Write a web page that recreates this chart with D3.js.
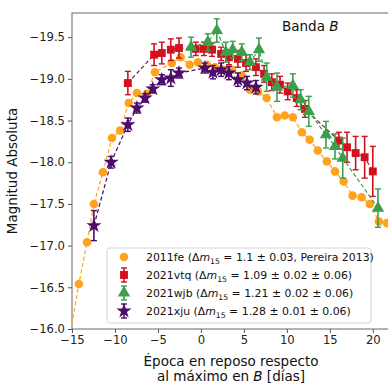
<!DOCTYPE html>
<html><head><meta charset="utf-8">
<script src="https://cdn.jsdelivr.net/npm/d3@7"></script>
<style>
body{margin:0;background:#fff;}
text{font-family:"DejaVu Sans",sans-serif;}
</style></head>
<body><svg id="c" width="388" height="383"></svg>
<script>
// ---- data ----
const feDays = [-15.3,-14.2,-13.25,-12.45,-11.4,-10.35,-9.4,-8.4,-7.45,-6.3,-5.35,-3.4,-2.35,-1.3,-0.35,0.7,1.65,2.55,3.6,4.75,5.7,6.65,7.65,8.85,9.75,10.7,11.75,12.65,13.6,14.65,15.6,16.6,17.65,18.7,19.65,20.7,21.65];
const feMags = [-15.9,-16.54,-17.04,-17.50,-17.88,-18.29,-18.38,-18.71,-18.83,-18.82,-19.08,-19.19,-19.26,-19.17,-19.20,-19.17,-19.14,-19.11,-19.11,-19.04,-18.87,-18.85,-18.77,-18.54,-18.56,-18.54,-18.36,-18.27,-18.14,-18.01,-17.89,-17.77,-17.60,-17.58,-17.50,-17.29,-17.27];

const vtqDays = [-8.5,-5.45,-4.55,-3.5,-2.55,-0.6,0.35,1.3,2.35,3.25,4.3,5.25,6.4,7.35,8.25,9.2,10.1,11.15,12.1,16.05,17.0,18.0,19.05,20.0];
const vtqMags = [-18.95,-19.29,-19.31,-19.35,-19.37,-19.36,-19.36,-19.35,-19.30,-19.26,-19.24,-19.19,-19.14,-19.06,-18.96,-18.93,-18.85,-18.77,-18.64,-18.26,-18.18,-18.11,-18.06,-17.89];
const vtqErrs = [0.14,0.13,0.13,0.13,0.12,0.08,0.08,0.08,0.08,0.09,0.1,0.1,0.1,0.1,0.1,0.1,0.1,0.1,0.1,0.1,0.18,0.2,0.25,0.3];

const wjbDays = [-1.15,0.8,1.85,2.9,3.7,4.75,5.7,6.75,7.65,8.85,10.7,11.6,12.55,14.55,15.6,16.5,20.6];
const wjbMags = [-19.38,-19.44,-19.58,-19.32,-19.35,-19.32,-19.20,-19.35,-19.02,-18.90,-18.92,-18.75,-18.61,-18.33,-18.19,-18.05,-17.45];
const wjbErrs = [0.12,0.1,0.14,0.12,0.1,0.1,0.09,0.14,0.17,0.17,0.14,0.12,0.18,0.16,0.15,0.24,0.23];

const xjuDays = [-12.45,-10.45,-8.5,-7.45,-6.5,-5.6,-4.55,-3.5,-2.55,0.45,1.4,2.35,3.25,4.3,5.35,6.4];
const xjuMags = [-17.24,-18.0,-18.45,-18.65,-18.77,-18.88,-18.99,-19.01,-19.07,-19.13,-19.08,-19.11,-19.07,-18.99,-18.95,-18.90];
const xjuErrs = [0.18,0.07,0.08,0.06,0.05,0.05,0.06,0.1,0.06,0.06,0.08,0.08,0.08,0.08,0.08,0.08];

const xTicks = [-15,-10,-5,0,5,10,15,20];
const yTicks = [-16.0,-16.5,-17.0,-17.5,-18.0,-18.5,-19.0,-19.5];
const legendNames = ["2011fe","2021vtq","2021wjb","2021xju"];
const legendRest = [" = 1.1 \u00b1 0.03, Pereira 2013)"," = 1.09 \u00b1 0.02 \u00b1 0.06)"," = 1.21 \u00b1 0.02 \u00b1 0.06)"," = 1.28 \u00b1 0.01 \u00b1 0.06)"];

// ---- layout ----
const L = 72, T = 13, R = 390, B = 329;
const svg = d3.select("#c");
const x = d3.scaleLinear().domain([-15, 22]).range([L, R]);
const y = d3.scaleLinear().domain([-16.0, -19.79]).range([B, T]);

const cols = {fe:"#ffa31f", vtq:"#d3101f", wjb:"#3b9f4c", xju:"#4b0c6b"};
const lineCols = {fe:"#ffa31f", vtq:"#8e1f45", wjb:"#3b9f4c", xju:"#4b0c6b"};

svg.append("defs").append("clipPath").attr("id","clip")
  .append("rect").attr("x",L).attr("y",T).attr("width",R-L).attr("height",B-T);

// axes
const gx = svg.append("g").attr("transform",`translate(0,${B})`)
  .call(d3.axisBottom(x).tickValues(xTicks).tickSize(4).tickPadding(3).tickFormat(d=>d3.format("")(d).replace("-","\u2212")));
const gy = svg.append("g").attr("transform",`translate(${L},0)`)
  .call(d3.axisLeft(y).tickValues(yTicks).tickSize(4).tickPadding(3).tickFormat(d=>d3.format(".1f")(d).replace("-","\u2212")));
[gx,gy].forEach(g=>{
  g.select(".domain").remove();
  g.selectAll("line").attr("stroke","#555");
  g.selectAll("text").attr("fill","#222").style("font-size","11.6px").style("font-family","DejaVu Sans");
});
// frame
svg.append("rect").attr("x",L).attr("y",T).attr("width",R-L).attr("height",B-T)
  .attr("fill","none").attr("stroke","#666").attr("stroke-width",1);

const plot = svg.append("g").attr("clip-path","url(#clip)");

function series(days, mags, errs, key, symbolType, size){
  const g = plot.append("g");
  const pts = days.map((d,i)=>({d, m:mags[i], e: errs ? errs[i] : 0}));
  g.append("path").datum(pts)
    .attr("d", d3.line().x(p=>x(p.d)).y(p=>y(p.m)))
    .attr("fill","none").attr("stroke",lineCols[key]).attr("stroke-width",1.2)
    .attr("stroke-dasharray","4,2.5");
  if (errs){
    const eb = g.selectAll(".eb").data(pts).enter().append("g");
    eb.append("line").attr("x1",p=>x(p.d)).attr("x2",p=>x(p.d))
      .attr("y1",p=>y(p.m-p.e)).attr("y2",p=>y(p.m+p.e))
      .attr("stroke",cols[key]).attr("stroke-width",1.6);
    [1,-1].forEach(s=>{
      eb.append("line").attr("x1",p=>x(p.d)-3).attr("x2",p=>x(p.d)+3)
        .attr("y1",p=>y(p.m+s*p.e)).attr("y2",p=>y(p.m+s*p.e))
        .attr("stroke",cols[key]).attr("stroke-width",1.4);
    });
  }
  g.selectAll(".mk").data(pts).enter().append("path")
    .attr("transform",p=>`translate(${x(p.d)},${y(p.m)})`)
    .attr("d", d3.symbol().type(symbolType).size(size))
    .attr("fill",cols[key]);
}
const tri = d3.symbolTriangle;
const sizes = [58,62,66,72];
series(feDays, feMags, null, "fe", d3.symbolCircle, sizes[0]);
series(vtqDays, vtqMags, vtqErrs, "vtq", d3.symbolSquare, sizes[1]);
series(wjbDays, wjbMags, wjbErrs, "wjb", tri, sizes[2]);
series(xjuDays, xjuMags, xjuErrs, "xju", d3.symbolStar, sizes[3]);

// title
const tt = svg.append("text").attr("x",282).attr("y",31).style("font-size","13.5px").attr("fill","#111");
tt.append("tspan").text("Banda ");
tt.append("tspan").attr("font-style","italic").text("B");

// legend
const lg = svg.append("g");
lg.append("rect").attr("x",107).attr("y",248).attr("width",264).attr("height",75).attr("rx",3)
  .attr("fill","#fff").attr("fill-opacity",0.85).attr("stroke","#d5d5d5");
const keys = ["fe","vtq","wjb","xju"];
const syms = [d3.symbolCircle,d3.symbolSquare,tri,d3.symbolStar];
keys.forEach((k,i)=>{
  const yy = 257 + i*18;
  if (i>0){
    lg.append("line").attr("x1",124).attr("x2",124).attr("y1",yy-7).attr("y2",yy+7).attr("stroke",cols[k]).attr("stroke-width",1.6);
    lg.append("line").attr("x1",121).attr("x2",127).attr("y1",yy-7).attr("y2",yy-7).attr("stroke",cols[k]).attr("stroke-width",1.4);
    lg.append("line").attr("x1",121).attr("x2",127).attr("y1",yy+7).attr("y2",yy+7).attr("stroke",cols[k]).attr("stroke-width",1.4);
  }
  lg.append("path").attr("transform",`translate(124,${yy})`).attr("d",d3.symbol().type(syms[i]).size(sizes[i])).attr("fill",cols[k]);
  const t = lg.append("text").attr("x",146).attr("y",yy+4).style("font-size","10.9px").attr("fill","#111");
  t.append("tspan").text(legendNames[i]+" (\u0394");
  t.append("tspan").attr("font-style","italic").text("m");
  t.append("tspan").attr("dy",3).style("font-size","7.7px").text("15");
  t.append("tspan").attr("dy",-3).text(legendRest[i]);
});

// axis labels
svg.append("text").attr("transform",`translate(17,${(T+B)/2}) rotate(-90)`).attr("text-anchor","middle")
  .style("font-size","13.5px").attr("fill","#111").text("Magnitud Absoluta");
const cx = (L+R)/2;
svg.append("text").attr("x",cx).attr("y",366).attr("text-anchor","middle").style("font-size","13.5px").attr("fill","#111")
  .text("\u00c9poca en reposo respecto");
const xl2 = svg.append("text").attr("x",cx).attr("y",381).attr("text-anchor","middle").style("font-size","13.5px").attr("fill","#111");
xl2.append("tspan").text("al m\u00e1ximo en ");
xl2.append("tspan").attr("font-style","italic").text("B");
xl2.append("tspan").text(" [d\u00edas]");
</script></body></html>
